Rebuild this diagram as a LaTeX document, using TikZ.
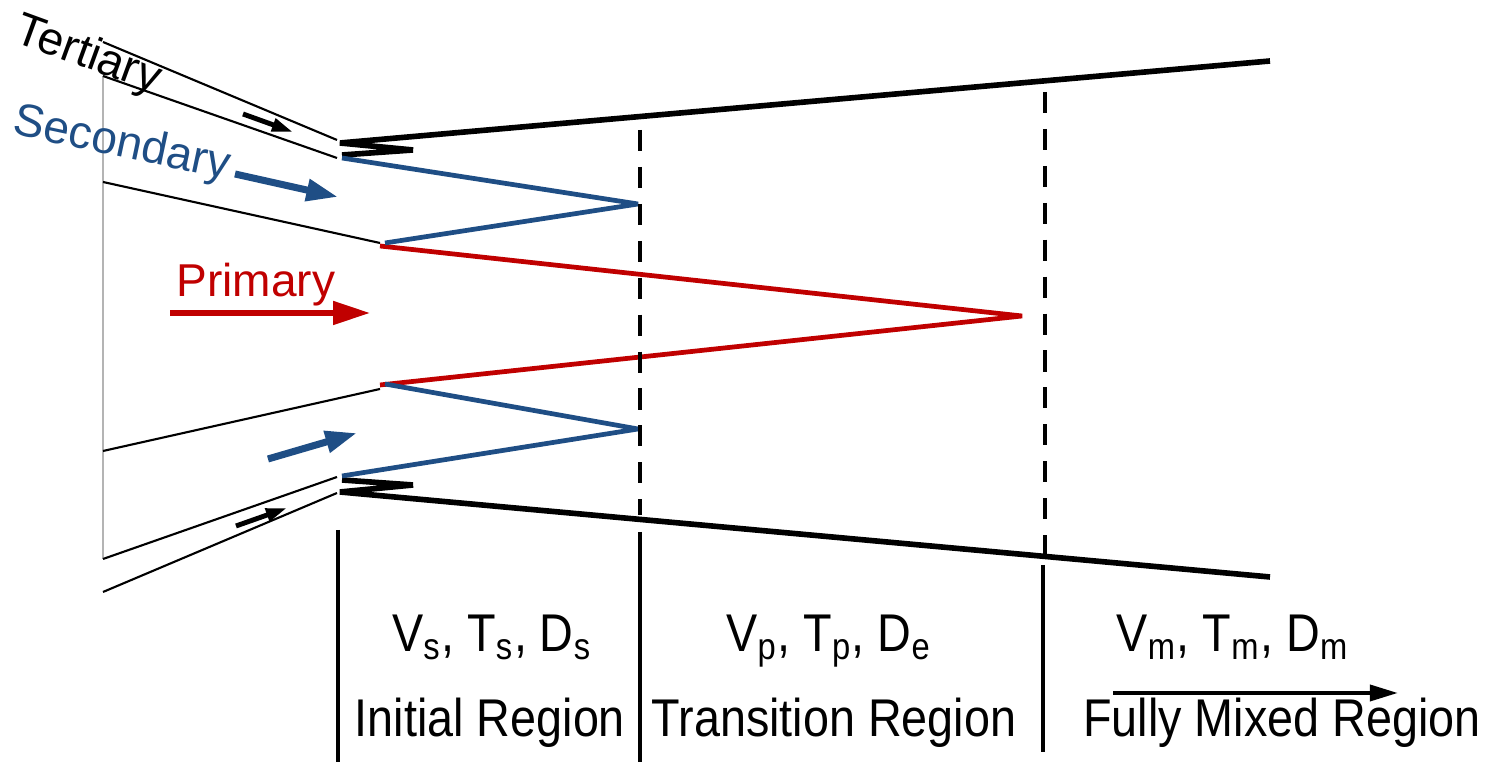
\documentclass[tikz,border=0pt]{standalone}
\usepackage{fontspec}
\setmainfont{Liberation Sans}
\newfontfamily\narrowfont[FakeStretch=0.88]{Liberation Sans}
\usetikzlibrary{arrows.meta}
\definecolor{JetBlue}{HTML}{1F4E85}
\definecolor{JetRed}{HTML}{C00000}
\definecolor{EdgeGray}{HTML}{B4B4B4}
\tikzset{
  wall/.style={line width=1.6pt, draw=black},
  duct/.style={line width=0.6pt, draw=black},
  secline/.style={line width=1.35pt, draw=JetBlue, line join=bevel},
  primline/.style={line width=1.35pt, draw=JetRed, line join=bevel},
  cutline/.style={line width=1.35pt, draw=black, dash pattern=on 6pt off 4.5pt},
  bar/.style={line width=1.3pt, draw=black},
  redflow/.style={-{Triangle[length=10.5pt, width=6.5pt]}, line width=1.5pt, draw=JetRed},
  blueflow/.style={-{Triangle[length=9pt, width=6pt]}, line width=2pt, draw=JetBlue},
  blackflow/.style={-{Triangle[length=6pt, width=3.6pt]}, line width=1.4pt, draw=black},
  upperlbl/.style={font=\fontsize{13.1}{15}\selectfont, inner sep=0pt},
  lowerlbl/.style={font=\narrowfont\fontsize{15.1}{17}\selectfont, inner sep=0pt, anchor=base}
}
\begin{document}
\begin{tikzpicture}[x=0.01cm, y=-0.01cm]
    \useasboundingbox (0,0) rectangle (1490,762);
    % inlet ducts
    \coordinate (terO) at (103,42);   \coordinate (terOe) at (337,140);
    \coordinate (terI) at (103,76);   \coordinate (terIe) at (337,158);
    \coordinate (secO) at (103,182);  \coordinate (secOe) at (380,243);
    \coordinate (secL) at (103,451);  \coordinate (secLe) at (380,389);
    \coordinate (terIL) at (103,559); \coordinate (terILe) at (337,477);
    \coordinate (terOL) at (103,592); \coordinate (terOLe) at (337,493);
    \draw[line width=0.4pt, draw=EdgeGray] (terI)--(terIL);
    \draw[duct] (terO)--(terOe);
    \draw[duct] (terI)--(terIe);
    \draw[duct] (secO)--(secOe);
    \draw[duct] (secL)--(secLe);
    \draw[duct] (terIL)--(terILe);
    \draw[duct] (terOL)--(terOLe);
    % outer walls
    \coordinate (wallT) at (1270,61);
    \coordinate (wallB) at (1270,577);
    \draw[wall, line join=bevel] (wallT)--(340,143)--(413,150)--(342,155);
    \draw[wall, line join=bevel] (342,480)--(413,485)--(340,492)--(wallB);
    % shear layers
    \coordinate (secTip1) at (638,204);
    \coordinate (secTip2) at (638,429);
    \coordinate (primTip) at (1022,316);
    \draw[primline] (380,246)--(primTip)--(380,385);
    \draw[secline] (342,158)--(secTip1)--(385,243);
    \draw[secline] (385,384)--(secTip2)--(342,476);
    % region boundaries
    \draw[cutline] (640,130)--(640,515);
    \draw[cutline] (1045,92)--(1045,556);
    \draw[bar] (338,530)--(338,762);
    \draw[bar] (640,532)--(640,762);
    \draw[bar] (1043,565)--(1043,752);
    % stream labels and arrows
    \node[upperlbl, rotate=-20] (tert) at (88,56) {Tertiary};
    \node[upperlbl, rotate=-12, text=JetBlue] (sec) at (122,145) {Secondary};
    \node[upperlbl, text=JetRed] (prim) at (256,285) {Primary};
    \draw[blackflow] (243,114)--(293,132);
    \draw[blackflow] (236,526)--(287,508);
    \draw[blueflow] (235,174)--(338,197);
    \draw[blueflow] (268,459)--(357,433);
    \draw[redflow] (170,313)--(370,313);
    % region labels
    \node[lowerlbl] (propS) at (492,652) {V\textsubscript{s}, T\textsubscript{s}, D\textsubscript{s}};
    \node[lowerlbl] (propP) at (829,652) {V\textsubscript{p}, T\textsubscript{p}, D\textsubscript{e}};
    \node[lowerlbl] (propM) at (1233,652) {V\textsubscript{m}, T\textsubscript{m}, D\textsubscript{m}};
    \node[lowerlbl] (initial) at (490,737) {Initial Region};
    \node[lowerlbl] (transition) at (834,737) {Transition Region};
    \node[lowerlbl] (mixed) at (1282,737) {Fully Mixed Region};
    \coordinate (mixS) at (1113,693);
    \coordinate (mixE) at (1398,693);
    \draw[-{Triangle[length=8pt, width=4.5pt]}, line width=1.2pt] (mixS)--(mixE);
  \end{tikzpicture}
\end{document}
